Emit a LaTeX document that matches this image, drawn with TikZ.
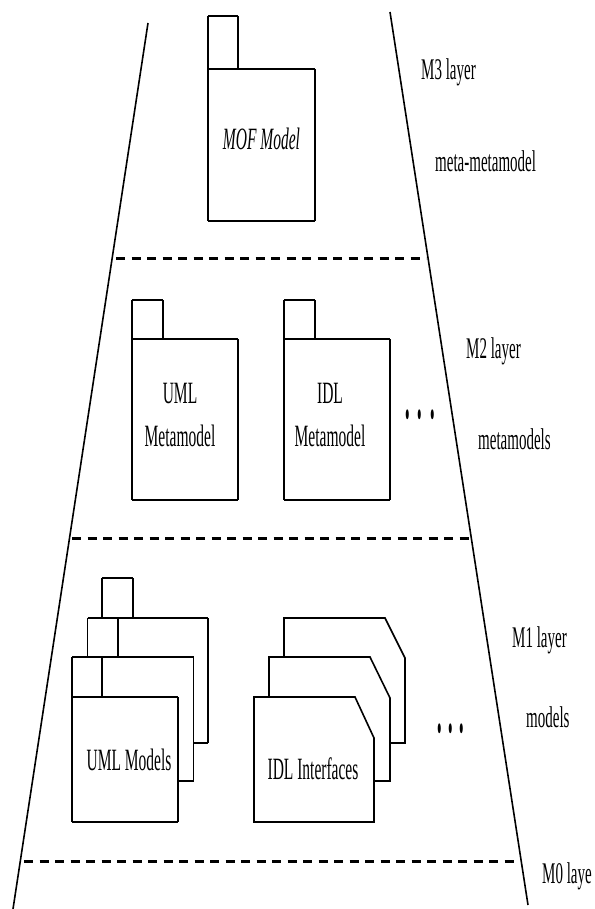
\documentclass[tikz,border=0pt]{standalone}
\usepackage{fontspec}
\setmainfont{Liberation Serif}
\usepackage{graphicx}
\newcommand\sq[1]{\scalebox{0.5}[1]{#1}}
\tikzset{
  lbl/.style={font=\fontsize{30}{40}\selectfont, inner sep=0pt, anchor=base west},
  boxtxt/.style={font=\fontsize{31}{43}\selectfont, inner sep=0pt, align=center, anchor=base},
  dotstxt/.style={font=\fontsize{26}{30}\selectfont, inner sep=0pt, anchor=base},
  side/.style={line width=1.6pt, line cap=square, line join=miter},
  hline/.style={line width=2.6pt, line cap=square},
  slant/.style={line width=1.6pt},
  layerline/.style={line width=3pt, dash pattern=on 9pt off 6.5pt},
}
% body (#1,#2)-(#3,#4); tab right x #5, tab top y #6
\newcommand\pkgshape[6]{%
  \fill[white] (#1,#6) rectangle (#5,#2);
  \fill[white] (#1,#2) rectangle (#3,#4);
  \draw[side] (#1,#6) -- (#1,#4);
  \draw[side] (#5,#6) -- (#5,#2);
  \draw[side] (#3,#2) -- (#3,#4);
  \draw[hline] (#1,#6) -- (#5,#6);
  \draw[hline] (#1,#2) -- (#3,#2);
  \draw[hline] (#1,#4) -- (#3,#4);
}
% folded sheet (#1,#2)-(#3,#4); corner cut from (#5,#2) to (#3,#6)
\newcommand\foldshape[6]{%
  \filldraw[fill=white, side] (#1,#4) -- (#1,#2) -- (#5,#2) -- (#3,#6) -- (#3,#4) -- cycle;
  \draw[hline] (#1,#2) -- (#5,#2);
  \draw[hline] (#1,#4) -- (#3,#4);
}
\begin{document}
\begin{tikzpicture}[x=1pt, y=-1pt]
  \useasboundingbox (0,0) rectangle (594,909);
  \fill[white] (0,0) rectangle (594,909);

  % pyramid sides
  \coordinate (Ltop) at (148,23);
  \coordinate (Lbot) at (13,909);
  \coordinate (Rtop) at (390,12);
  \coordinate (Rbot) at (528,905);
  \draw[slant] (Ltop) -- (Lbot);
  \draw[slant] (Rtop) -- (Rbot);

  % layer separators
  \coordinate (d1a) at (116,258); \coordinate (d1b) at (426,258);
  \coordinate (d2a) at (72,538);  \coordinate (d2b) at (470,538);
  \coordinate (d3a) at (24,861);  \coordinate (d3b) at (516,861);
  \draw[layerline] (d1a) -- (d1b);
  \draw[layerline] (d2a) -- (d2b);
  \draw[layerline] (d3a) -- (d3b);

  % M3
  \pkgshape{208}{69}{315}{221}{238}{16}
  \node[boxtxt] (mof) at (261.5,150) {\sq{\itshape MOF Model}};

  % M2
  \pkgshape{132}{339}{238}{500}{163}{300}
  \node[boxtxt] (umlmm) at (180,446) {\sq{UML}\\\sq{Metamodel}};
  \pkgshape{284}{339}{390}{500}{315}{300}
  \node[boxtxt] (idlmm) at (330,446) {\sq{IDL}\\\sq{Metamodel}};
  \node[dotstxt] (dots2) at (420,418) {\scalebox{1}[3.2]{.\hspace{6pt}.\hspace{6pt}.}};

  % M1 UML models (stack)
  \pkgshape{102}{618}{208}{743}{133}{578}
  \pkgshape{87.5}{657}{193.5}{781}{118}{618}
  \pkgshape{72}{697}{178}{822}{102}{657}
  \node[boxtxt] (umlm) at (129,770) {\sq{UML Models}};

  % M1 IDL interfaces (stack)
  \foldshape{284}{618}{405}{743}{385}{658}
  \foldshape{269}{657}{390}{781}{370}{698}
  \foldshape{254}{697}{374}{822}{355}{738}
  \node[boxtxt] (idli) at (313,779) {\sq{IDL Interfaces}};
  \node[dotstxt] (dots1) at (451,732) {\scalebox{1}[3.2]{.\hspace{4.5pt}.\hspace{4.5pt}.}};

  % layer labels
  \node[lbl] (m3) at (421,80) {\sq{M3 layer}};
  \node[lbl] (m3d) at (435,172) {\sq{meta-metamodel}};
  \node[lbl] (m2) at (466,358) {\sq{M2 layer}};
  \node[lbl] (m2d) at (478,449) {\sq{metamodels}};
  \node[lbl] (m1) at (512,647) {\sq{M1 layer}};
  \node[lbl] (m1d) at (526,727) {\sq{models}};
  \node[lbl] (m0) at (542,883) {\sq{M0 laye}};
\end{tikzpicture}
\end{document}
